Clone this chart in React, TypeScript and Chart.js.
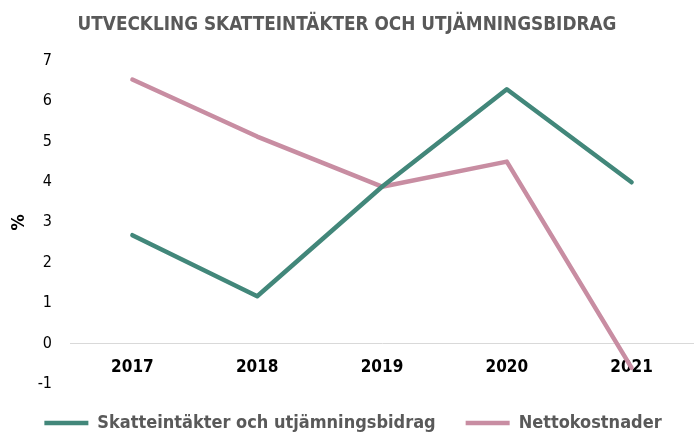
import React, { useEffect, useRef } from 'react';
import { Chart, registerables } from 'chart.js';

Chart.register(...registerables);

const categories = ['2017', '2018', '2019', '2020', '2021'];
const skatteintakter = [2.68, 1.17, 3.88, 6.29, 3.99];
const nettokostnader = [6.53, 5.12, 3.88, 4.5, -0.6];
const seriesNames = ['Skatteintäkter och utjämningsbidrag', 'Nettokostnader'];
const yMin = -1;
const yMax = 7;
const yStep = 1;

const FONT = "'DejaVu Sans Condensed', 'DejaVu Sans', sans-serif";
const GREEN = '#42877a';
const PINK = '#c88da2';

const legendShift = {
  id: 'legendShift',
  afterLayout(chart: any) {
    if (chart.legend) {
      chart.legend.left += 6;
      chart.legend.right += 6;
    }
  },
};

export default function App() {
  const ref = useRef<HTMLCanvasElement | null>(null);

  useEffect(() => {
    document.body.style.margin = '0';
    if (!ref.current) return;
    const chart = new Chart(ref.current, {
      type: 'line',
      data: {
        labels: categories,
        datasets: [
          {
            label: seriesNames[0],
            data: skatteintakter,
            borderColor: GREEN,
            backgroundColor: GREEN,
            borderWidth: 4.5,
            borderCapStyle: 'round',
            borderJoinStyle: 'round',
            pointRadius: 0,
            tension: 0,
          },
          {
            label: seriesNames[1],
            data: nettokostnader,
            borderColor: PINK,
            backgroundColor: PINK,
            borderWidth: 4.5,
            borderCapStyle: 'round',
            borderJoinStyle: 'round',
            pointRadius: 0,
            tension: 0,
          },
        ],
      },
      plugins: [legendShift],
      options: {
        responsive: true,
        maintainAspectRatio: false,
        animation: false,
        layout: { padding: { left: 0, right: 0, top: 0, bottom: -10 } },
        plugins: {
          title: {
            display: true,
            text: 'UTVECKLING SKATTEINTÄKTER OCH UTJÄMNINGSBIDRAG',
            color: '#595959',
            font: { family: FONT, size: 18.8, weight: 'bold' },
            padding: { top: 14, bottom: 24 },
          },
          legend: {
            position: 'bottom',
            labels: {
              usePointStyle: true,
              pointStyle: 'line',
              pointStyleWidth: 44,
              padding: 30,
              color: '#595959',
              font: { family: FONT, size: 18, weight: 'bold' },
            },
          },
          tooltip: { enabled: false },
        },
        scales: {
          x: {
            type: 'category',
            offset: true,
            position: { y: 0 },
            afterFit: (scale: any) => {
              scale.height = 4.8;
            },
            grid: { display: false, drawTicks: false },
            border: { display: true, color: '#d9d9d9', width: 1 },
            ticks: {
              color: '#000000',
              padding: 14,
              font: { family: FONT, size: 17, weight: 'bold' },
              maxRotation: 0,
            },
          },
          y: {
            min: yMin,
            max: yMax,
            afterFit: (scale: any) => {
              scale.width = 70;
            },
            grid: { display: false, drawTicks: false },
            border: { display: false },
            ticks: {
              stepSize: yStep,
              color: '#000000',
              padding: 18,
              font: { family: FONT, size: 16 },
            },
            title: {
              display: true,
              text: '%',
              color: '#000000',
              font: { family: FONT, size: 18, weight: 'bold' },
              padding: { top: 9, bottom: 4 },
            },
          },
        },
      },
    });
    return () => chart.destroy();
  }, []);

  return (
    <div style={{ position: 'absolute', left: 0, top: 0, width: 694, height: 432 }}>
      <canvas ref={ref} />
    </div>
  );
}
